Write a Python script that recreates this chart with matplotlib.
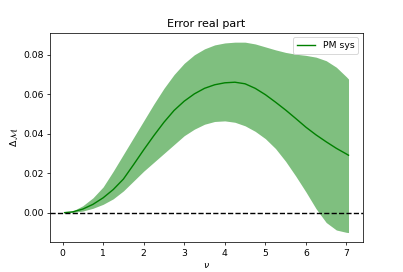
import matplotlib
matplotlib.use("Agg")
import matplotlib.pyplot as plt

nu = [0.05, 0.25, 0.5, 0.75, 1.0, 1.25, 1.5, 1.75, 2.0, 2.25, 2.5, 2.75, 3.0, 3.25, 3.5,
      3.75, 4.0, 4.25, 4.5, 4.75, 5.0, 5.25, 5.5, 5.75, 6.0, 6.25, 6.5, 6.75, 7.0, 7.05]
mean = [0.0, 0.0004, 0.0018, 0.0042, 0.0075, 0.0117, 0.0170, 0.0243, 0.0318, 0.0390,
        0.0458, 0.0518, 0.0565, 0.0602, 0.0630, 0.0648, 0.0658, 0.0661, 0.0653, 0.0630,
        0.0598, 0.0560, 0.0520, 0.0477, 0.0433, 0.0394, 0.0359, 0.0326, 0.0297, 0.0291]
upper = [0.0, 0.0008, 0.0035, 0.0075, 0.0130, 0.0210, 0.0295, 0.0380, 0.0465, 0.0550,
         0.0630, 0.0700, 0.0757, 0.0800, 0.0830, 0.0850, 0.0860, 0.0864, 0.0864, 0.0855,
         0.0840, 0.0825, 0.0812, 0.0803, 0.0797, 0.0788, 0.0770, 0.0737, 0.0688, 0.0677]
lower = [0.0, 0.0001, 0.0008, 0.0022, 0.0042, 0.0070, 0.0110, 0.0160, 0.0210, 0.0255,
         0.0300, 0.0345, 0.0390, 0.0423, 0.0448, 0.0462, 0.0465, 0.0458, 0.0440, 0.0412,
         0.0375, 0.0325, 0.0260, 0.0185, 0.0105, 0.0020, -0.0050, -0.0088, -0.0100, -0.0101]

fig = plt.figure(figsize=(403/67, 272/67), dpi=67)
plt.plot(nu, mean, color="green", label="PM sys")
plt.fill_between(nu, lower, upper, color="green", alpha=0.5, linewidth=0)
plt.axhline(0, color="k", linestyle="--")
plt.title("Error real part")
plt.xlabel(r"$\nu$")
plt.ylabel(r"$\Delta\,\mathcal{M}$")
plt.legend(loc="upper right")
plt.savefig("out.png", dpi=67)
